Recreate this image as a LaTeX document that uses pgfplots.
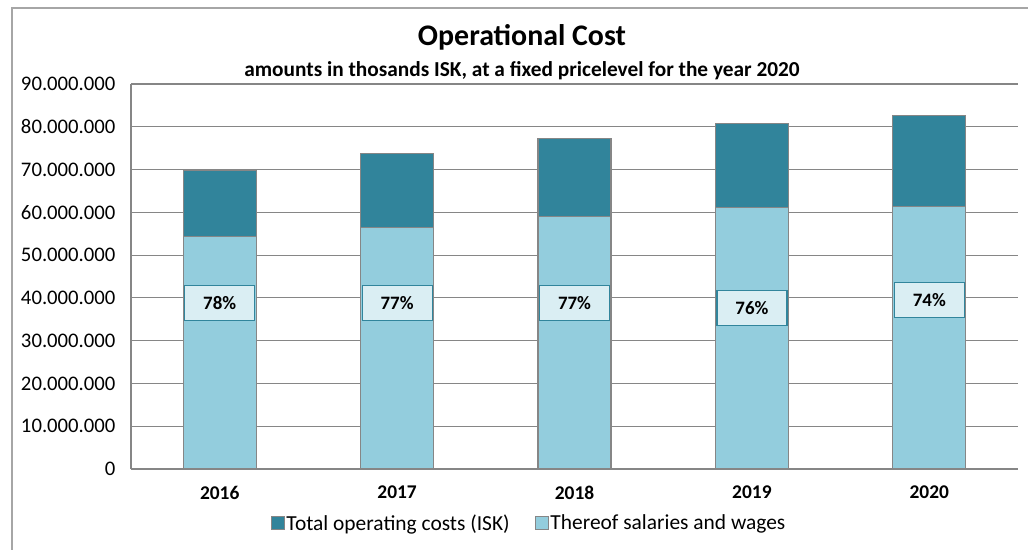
\documentclass[border=0pt]{standalone}
\usepackage{pgfplots}
\pgfplotsset{compat=1.18}
\usepackage{fontspec}
\setmainfont{Carlito}
\definecolor{darkteal}{HTML}{31849B}
\definecolor{lightteal}{HTML}{93CDDD}
\definecolor{boxfill}{HTML}{DAEEF3}
\definecolor{boxedge}{HTML}{31859C}
\definecolor{gridgray}{HTML}{868686}
\definecolor{framegray}{HTML}{A6A6A6}
\begin{document}
\begin{tikzpicture}
\useasboundingbox (0bp,0bp) rectangle (1028bp,550bp);
\draw[framegray, line width=1.2bp] (12bp,0bp) -- (12bp,542bp) -- (1028bp,542bp);
\node[font=\bfseries\fontsize{30}{35}\selectfont] at (522bp,513bp) {Operational Cost};
\node[font=\bfseries\fontsize{21.4}{25}\selectfont] at (522bp,479bp) {amounts in thosands ISK, at a fixed pricelevel for the year 2020};
\begin{axis}[
  at={(131bp,81bp)}, anchor=south west,
  width=887bp, height=385bp, scale only axis,
  xmin=-0.5, xmax=4.5, ymin=0, ymax=90000000,
  ybar, bar width=73bp, bar shift=0pt,
  axis lines*=left,
  axis line style={gridgray, line width=1.2bp},
  ymajorgrids, grid style={gridgray, line width=1.2bp},
  ytick={0,10000000,20000000,30000000,40000000,50000000,60000000,70000000,80000000,90000000},
  scaled y ticks=false,
  yticklabel style={font=\fontsize{20.8}{24}\selectfont, xshift=-12bp, /pgf/number format/fixed, /pgf/number format/1000 sep={.}, /pgf/number format/assume math mode=true},
  ytick style={draw=none},
  xtick={0,1,2,3,4},
  xticklabels={2016,2017,2018,2019,2020},
  xticklabel style={font=\bfseries\fontsize{19.5}{22}\selectfont, yshift=-9bp},
  xtick style={draw=none},
  extra x ticks={-0.5,0.5,1.5,2.5,3.5,4.5},
  extra x tick labels={},
  extra x tick style={grid=none, tick style={draw=gridgray, line width=1.2bp}, tick align=outside, major tick length=5bp},
  legend columns=2,
  legend style={at={(0.4487,-0.1403)}, anchor=center, draw=none, fill=none, font=\fontsize{21.5}{25}\selectfont, /tikz/every even column/.append style={column sep=23bp}},
  legend image code/.code={\draw[#1, draw=gridgray, line width=0.8bp] (0bp,-6.5bp) rectangle (13bp,6.5bp);},
  clip=false,
]
\addplot[fill=darkteal, draw=gridgray, line width=1.2bp] coordinates {(0,69900000) (1,73800000) (2,77300000) (3,80800000) (4,82700000)};
\addlegendentry{Total operating costs (ISK)}
\addplot[fill=lightteal, draw=gridgray, line width=1.2bp] coordinates {(0,54300000) (1,56500000) (2,59100000) (3,61100000) (4,61400000)};
\addlegendentry{Thereof salaries and wages}
\addplot[draw=none, fill=none, forget plot, only marks, mark=none,
  point meta=explicit symbolic,
  nodes near coords={\pgfplotspointmeta\%},
  nodes near coords align={center},
  every node near coord/.append style={font=\bfseries\fontsize{19}{22}\selectfont, fill=boxfill, draw=boxedge, line width=1.2bp, minimum width=70bp, minimum height=35bp, inner sep=0pt, anchor=center}
] coordinates {(0,38800000)[78] (1,38800000)[77] (2,38800000)[77] (3,37600000)[76] (4,39500000)[74]};
\end{axis}
\end{tikzpicture}
\end{document}
